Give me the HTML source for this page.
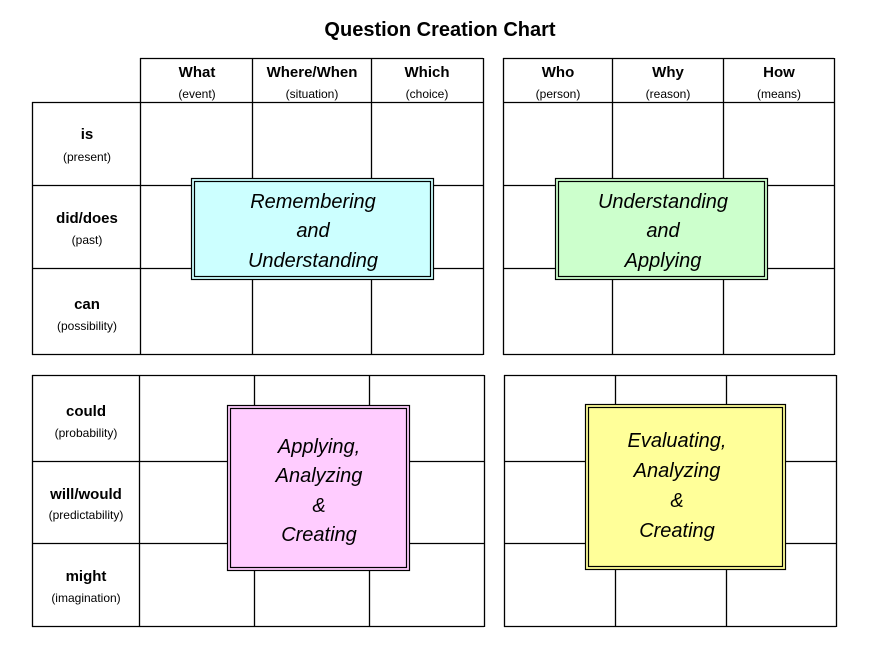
<!DOCTYPE html>
<html><head><meta charset="utf-8"><style>
html,body{margin:0;padding:0;background:#fff;}
svg{display:block;}
text{font-family:"Liberation Sans",sans-serif;fill:#000;}
.h{font-weight:bold;font-size:15px;}
.s{font-size:12px;}
.b{font-style:italic;font-size:20px;}
</style></head><body>
<svg width="888" height="667" viewBox="0 0 888 667" xmlns="http://www.w3.org/2000/svg">
<text x="440" y="36" text-anchor="middle" font-size="20" font-weight="bold">Question Creation Chart</text>
<g stroke="#000" stroke-width="1.3" fill="none">
<!-- top-left -->
<line x1="140" y1="58.5" x2="483" y2="58.5"/>
<line x1="32" y1="102.5" x2="483" y2="102.5"/>
<line x1="32" y1="185.5" x2="483" y2="185.5"/>
<line x1="32" y1="268.5" x2="483" y2="268.5"/>
<line x1="32" y1="354.5" x2="483" y2="354.5"/>
<line x1="32.5" y1="102" x2="32.5" y2="355"/>
<line x1="140.5" y1="58" x2="140.5" y2="355"/>
<line x1="252.5" y1="58" x2="252.5" y2="355"/>
<line x1="371.5" y1="58" x2="371.5" y2="355"/>
<line x1="483.5" y1="58" x2="483.5" y2="355"/>
<!-- top-right -->
<line x1="503" y1="58.5" x2="834" y2="58.5"/>
<line x1="503" y1="102.5" x2="834" y2="102.5"/>
<line x1="503" y1="185.5" x2="834" y2="185.5"/>
<line x1="503" y1="268.5" x2="834" y2="268.5"/>
<line x1="503" y1="354.5" x2="834" y2="354.5"/>
<line x1="503.5" y1="58" x2="503.5" y2="355"/>
<line x1="612.5" y1="58" x2="612.5" y2="355"/>
<line x1="723.5" y1="58" x2="723.5" y2="355"/>
<line x1="834.5" y1="58" x2="834.5" y2="355"/>
<!-- bottom-left -->
<line x1="32" y1="375.5" x2="484" y2="375.5"/>
<line x1="32" y1="461.5" x2="484" y2="461.5"/>
<line x1="32" y1="543.5" x2="484" y2="543.5"/>
<line x1="32" y1="626.5" x2="484" y2="626.5"/>
<line x1="32.5" y1="375" x2="32.5" y2="627"/>
<line x1="139.5" y1="375" x2="139.5" y2="627"/>
<line x1="254.5" y1="375" x2="254.5" y2="627"/>
<line x1="369.5" y1="375" x2="369.5" y2="627"/>
<line x1="484.5" y1="375" x2="484.5" y2="627"/>
<!-- bottom-right -->
<line x1="504" y1="375.5" x2="836" y2="375.5"/>
<line x1="504" y1="461.5" x2="836" y2="461.5"/>
<line x1="504" y1="543.5" x2="836" y2="543.5"/>
<line x1="504" y1="626.5" x2="836" y2="626.5"/>
<line x1="504.5" y1="375" x2="504.5" y2="627"/>
<line x1="615.5" y1="375" x2="615.5" y2="627"/>
<line x1="726.5" y1="375" x2="726.5" y2="627"/>
<line x1="836.5" y1="375" x2="836.5" y2="627"/>
</g>
<!-- boxes -->
<g stroke="#000" stroke-width="1.2">
<rect x="191.5" y="178.5" width="242" height="101" fill="#ccffff"/>
<rect x="194.5" y="181.5" width="236" height="95" fill="none"/>
<rect x="555.5" y="178.5" width="212" height="101" fill="#ccffcc"/>
<rect x="558.5" y="181.5" width="206" height="95" fill="none"/>
<rect x="227.5" y="405.5" width="182" height="165" fill="#ffccff"/>
<rect x="230.5" y="408.5" width="176" height="159" fill="none"/>
<rect x="585.5" y="404.5" width="200" height="165" fill="#ffff99"/>
<rect x="588.5" y="407.5" width="194" height="159" fill="none"/>
</g>
<!-- headers -->
<g text-anchor="middle">
<text class="h" x="197" y="77">What</text><text class="s" x="197" y="98">(event)</text>
<text class="h" x="312" y="77">Where/When</text><text class="s" x="312" y="98">(situation)</text>
<text class="h" x="427" y="77">Which</text><text class="s" x="427" y="98">(choice)</text>
<text class="h" x="558" y="77">Who</text><text class="s" x="558" y="98">(person)</text>
<text class="h" x="668" y="77">Why</text><text class="s" x="668" y="98">(reason)</text>
<text class="h" x="779" y="77">How</text><text class="s" x="779" y="98">(means)</text>
<text class="h" x="87" y="139">is</text><text class="s" x="87" y="161">(present)</text>
<text class="h" x="87" y="223">did/does</text><text class="s" x="87" y="244">(past)</text>
<text class="h" x="87" y="309">can</text><text class="s" x="87" y="330">(possibility)</text>
<text class="h" x="86" y="416">could</text><text class="s" x="86" y="437">(probability)</text>
<text class="h" x="86" y="499">will/would</text><text class="s" x="86" y="519">(predictability)</text>
<text class="h" x="86" y="581">might</text><text class="s" x="86" y="602">(imagination)</text>
<text class="b" x="313" y="208">Remembering</text>
<text class="b" x="313" y="237">and</text>
<text class="b" x="313" y="267">Understanding</text>
<text class="b" x="663" y="208">Understanding</text>
<text class="b" x="663" y="237">and</text>
<text class="b" x="663" y="267">Applying</text>
<text class="b" x="319" y="453">Applying,</text>
<text class="b" x="319" y="482">Analyzing</text>
<text class="b" x="319" y="512">&amp;</text>
<text class="b" x="319" y="541">Creating</text>
<text class="b" x="677" y="447">Evaluating,</text>
<text class="b" x="677" y="477">Analyzing</text>
<text class="b" x="677" y="507">&amp;</text>
<text class="b" x="677" y="537">Creating</text>
</g>
</svg>
</body></html>
